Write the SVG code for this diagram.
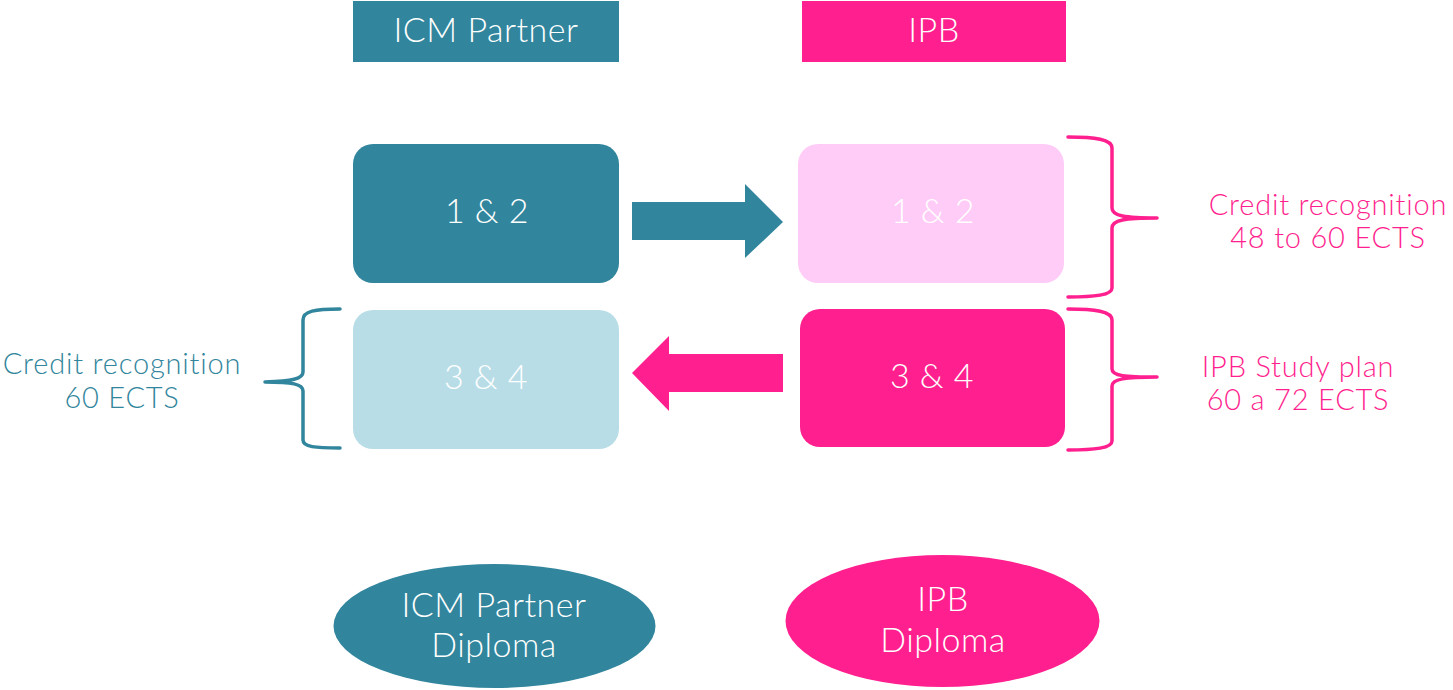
<svg xmlns="http://www.w3.org/2000/svg" width="1453" height="690" viewBox="0 0 1453 690">
<style>
.t{font-family:Lato,"Liberation Sans",sans-serif;font-weight:300;text-anchor:middle}
.w{fill:#FFFFFF}
.teal{fill:#31859C}
.pink{fill:#FF1F8E}
.lbl{font-size:29px;letter-spacing:0.8px}
.big{font-size:34px;letter-spacing:0.5px}
.br{fill:none;stroke-width:3.5;stroke-linecap:round;stroke-linejoin:round}
</style>
<rect width="1453" height="690" fill="#FFFFFF"/>
<g id="hdr-icm"><rect x="353" y="1" width="266" height="61" class="teal"/><text x="486" y="42" class="t w big">ICM Partner</text></g>
<g id="hdr-ipb"><rect x="802" y="1" width="264" height="61" class="pink"/><text x="934" y="42" class="t w big">IPB</text></g>
<g id="icm-12"><rect x="353" y="144" width="266" height="139" rx="20" class="teal"/><text x="487" y="223" class="t w big">1 &amp; 2</text></g>
<g id="ipb-12"><rect x="798" y="144" width="266" height="139" rx="20" fill="#FFCCF8"/><text x="933" y="223" class="t w big">1 &amp; 2</text></g>
<g id="icm-34"><rect x="353" y="310" width="266" height="139" rx="20" fill="#B8DDE7"/><text x="486" y="389" class="t w big">3 &amp; 4</text></g>
<g id="ipb-34"><rect x="800" y="309" width="265" height="138" rx="20" class="pink"/><text x="932" y="388" class="t w big">3 &amp; 4</text></g>
<g id="dip-icm"><ellipse cx="494.5" cy="626" rx="161" ry="62" class="teal"/><text x="494" y="617" class="t w big">ICM Partner</text><text x="494" y="657" class="t w big">Diploma</text></g>
<g id="dip-ipb"><ellipse cx="942.5" cy="621" rx="157" ry="66" class="pink"/><text x="943" y="611" class="t w big">IPB</text><text x="943" y="652" class="t w big">Diploma</text></g>
<g id="lbl-right-top"><text x="1328" y="215" class="t pink lbl">Credit recognition</text><text x="1328" y="248" class="t pink lbl">48 to 60 ECTS</text></g>
<g id="lbl-right-bot"><text x="1298" y="377" class="t pink lbl">IPB Study plan</text><text x="1298" y="410" class="t pink lbl">60 a 72 ECTS</text></g>
<g id="lbl-left"><text x="122" y="374" class="t teal lbl">Credit recognition</text><text x="122" y="408" class="t teal lbl">60 ECTS</text></g>
<g id="connectors">
<polygon points="632,202 745,202 745,184 783,222 745,258 745,240 632,240" class="teal"/>
<polygon points="783,354 669,354 669,336 632,373 669,411 669,392 783,392" class="pink"/>
<path d="M1068,137 C1095,137 1112,139 1112,148 L1112,208 C1112,216 1125,218 1157,218 C1125,218 1112,220 1112,228 L1112,288 C1112,295 1095,297 1068,297" class="br" stroke="#FF1F8E"/>
<path d="M1068,309 C1095,309 1112,311 1112,320 L1112,369 C1112,376 1125,377 1157,377 C1125,377 1112,379 1112,386 L1112,441 C1112,448 1095,450 1068,450" class="br" stroke="#FF1F8E"/>
<path d="M340,309 C315,309 303,311 303,320 L303,372 C303,379 292,381 265,382 C292,382 303,384 303,391 L303,440 C303,447 315,448 340,448" class="br" stroke="#31859C"/>
</g>
</svg>
